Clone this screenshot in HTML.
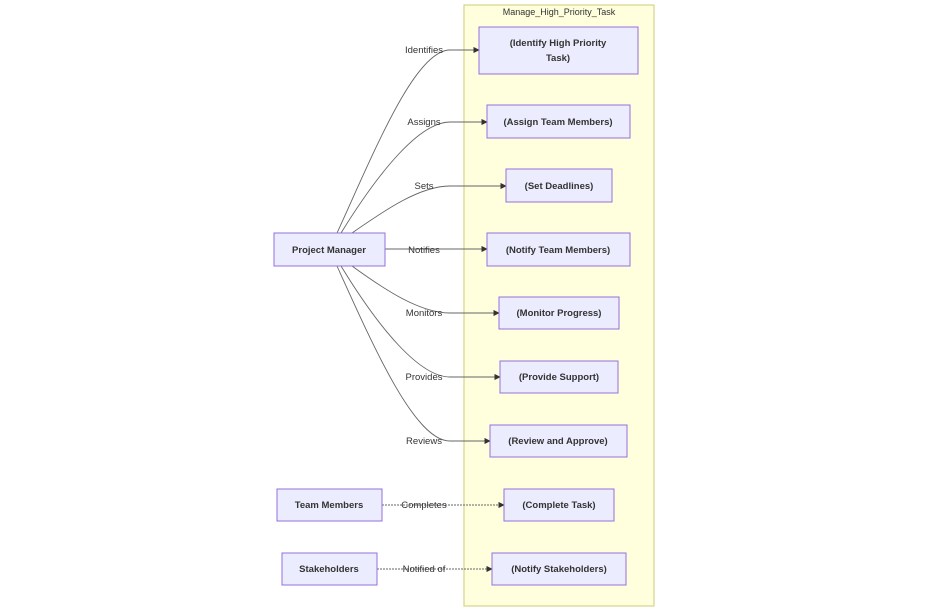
<!DOCTYPE html>
<html><head><meta charset="utf-8"><style>
body{margin:0;background:#fff;}
svg{display:block;font-family:"Liberation Sans",sans-serif;}
.n{fill:#ECECFF;stroke:#9370DB;stroke-width:1;}
.t{font-size:9.5px;fill:#333;text-anchor:middle;font-weight:bold;}
.l{font-size:9.5px;fill:#333;text-anchor:middle;}
.e{fill:none;stroke:#666;stroke-width:0.9;}
</style></head><body>
<svg width="928" height="612" viewBox="0 0 928 612">
<defs><marker id="a" viewBox="0 0 10 10" refX="9" refY="5" markerWidth="7" markerHeight="7" orient="auto"><path d="M0,0L10,5L0,10z" fill="#333"/></marker></defs>
<rect x="464" y="5" width="190" height="601" fill="#ffffde" stroke="#d4d48a" stroke-width="1.2"/>
<text x="559" y="15" class="l" style="font-size:9px">Manage_High_Priority_Task</text>

<path class="e" marker-end="url(#a)" d="M337,233 C375,150 415,50 450,50 L479,50"/>
<path class="e" marker-end="url(#a)" d="M341,233 C380,170 420,122 450,122 L487,122"/>
<path class="e" marker-end="url(#a)" d="M352,233 C385,210 420,186 450,186 L506,186"/>
<path class="e" marker-end="url(#a)" d="M385,249 L487,249"/>
<path class="e" marker-end="url(#a)" d="M352,266 C385,290 420,313 450,313 L499,313"/>
<path class="e" marker-end="url(#a)" d="M341,266 C380,330 420,377 450,377 L500,377"/>
<path class="e" marker-end="url(#a)" d="M337,266 C375,350 415,441 450,441 L490,441"/>
<path class="e" marker-end="url(#a)" stroke-dasharray="2,1" d="M382,505 L504,505"/>
<path class="e" marker-end="url(#a)" stroke-dasharray="2,1" d="M377,569 L492,569"/>

<g class="l">
<text x="424" y="53">Identifies</text>
<text x="424" y="125">Assigns</text>
<text x="424" y="189">Sets</text>
<text x="424" y="253">Notifies</text>
<text x="424" y="316">Monitors</text>
<text x="424" y="380">Provides</text>
<text x="424" y="444">Reviews</text>
<text x="424" y="508">Completes</text>
<text x="424" y="572">Notified of</text>
</g>

<rect class="n" x="479" y="27" width="159" height="47"/>
<text class="t" x="558" y="46">(Identify High Priority</text><text class="t" x="558" y="61">Task)</text>
<rect class="n" x="487" y="105" width="143" height="33"/><text class="t" x="558" y="125">(Assign Team Members)</text>
<rect class="n" x="506" y="169" width="106" height="33"/><text class="t" x="559" y="189">(Set Deadlines)</text>
<rect class="n" x="487" y="233" width="143" height="33"/><text class="t" x="558" y="253">(Notify Team Members)</text>
<rect class="n" x="499" y="297" width="120" height="32"/><text class="t" x="559" y="316">(Monitor Progress)</text>
<rect class="n" x="500" y="361" width="118" height="32"/><text class="t" x="559" y="380">(Provide Support)</text>
<rect class="n" x="490" y="425" width="137" height="32"/><text class="t" x="558" y="444">(Review and Approve)</text>
<rect class="n" x="504" y="489" width="110" height="32"/><text class="t" x="559" y="508">(Complete Task)</text>
<rect class="n" x="492" y="553" width="134" height="32"/><text class="t" x="559" y="572">(Notify Stakeholders)</text>

<rect class="n" x="274" y="233" width="111" height="33"/><text class="t" x="329" y="253">Project Manager</text>
<rect class="n" x="277" y="489" width="105" height="32"/><text class="t" x="329" y="508">Team Members</text>
<rect class="n" x="282" y="553" width="95" height="32"/><text class="t" x="329" y="572">Stakeholders</text>
</svg>
</body></html>
